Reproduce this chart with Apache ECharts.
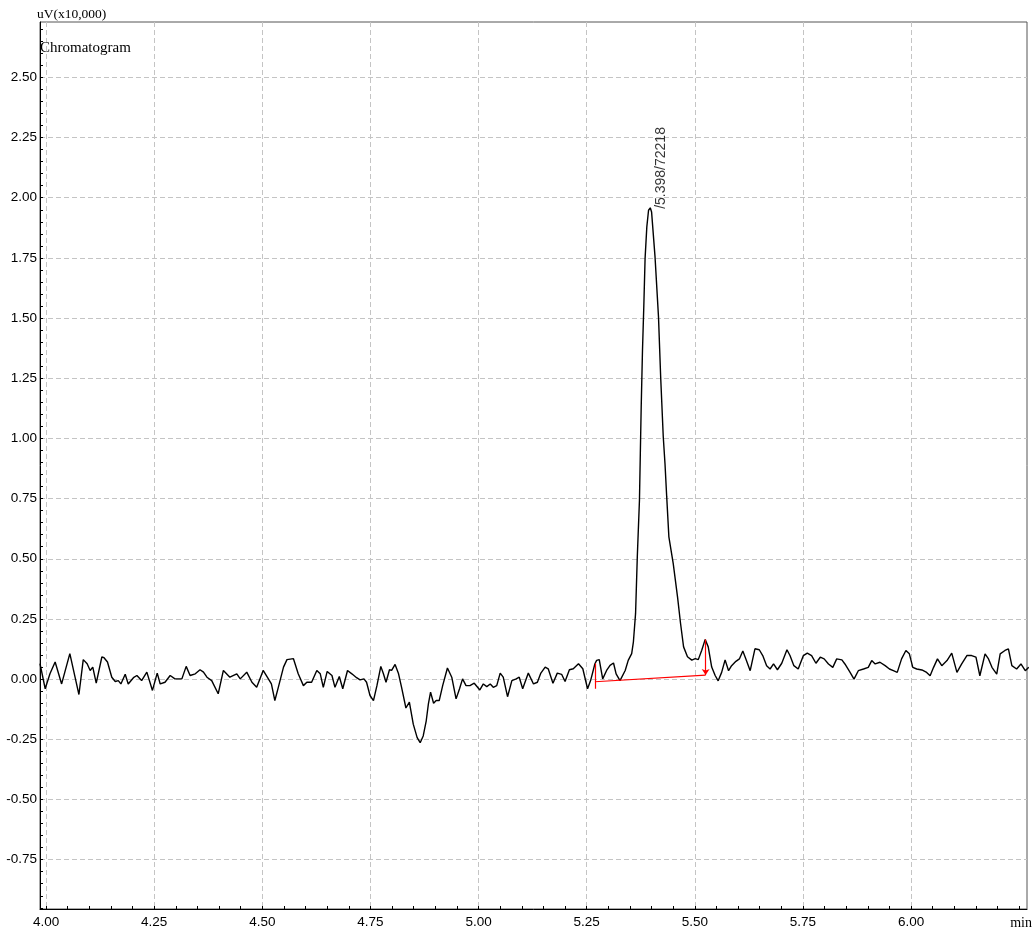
<!DOCTYPE html>
<html>
<head>
<meta charset="utf-8">
<title>Chromatogram</title>
<script src="https://cdn.jsdelivr.net/npm/echarts@6/dist/echarts.min.js"></script>
<style>
  html, body { margin: 0; padding: 0; background: #fff; }
  #chart { width: 1032px; height: 931px; }
</style>
</head>
<body>
<div id="chart"></div>
<script>
// [retention time (min), signal (uV x10,000)]
const trace = [
  [3.986, 0.064], [3.998, -0.040], [4.009, 0.022], [4.021, 0.071], [4.036, -0.020], [4.055, 0.106],
  [4.076, -0.064], [4.086, 0.081], [4.095, 0.064], [4.102, 0.036], [4.108, 0.050], [4.116, -0.017],
  [4.129, 0.092], [4.134, 0.089], [4.142, 0.071], [4.152, 0.008], [4.160, -0.010], [4.167, -0.006],
  [4.173, -0.020], [4.183, 0.020], [4.190, -0.020], [4.202, 0.006], [4.210, 0.015], [4.221, -0.006],
  [4.233, 0.029], [4.246, -0.047], [4.257, 0.025], [4.264, -0.020], [4.275, -0.013], [4.287, 0.015],
  [4.298, 0.001], [4.314, 0.001], [4.324, 0.053], [4.333, 0.015], [4.345, 0.022], [4.356, 0.039],
  [4.364, 0.029], [4.372, 0.008], [4.383, -0.006], [4.398, -0.061], [4.410, 0.036], [4.425, 0.008],
  [4.441, 0.022], [4.449, 0.001], [4.464, 0.029], [4.476, -0.013], [4.487, -0.034], [4.502, 0.036],
  [4.514, 0.001], [4.521, -0.020], [4.529, -0.089], [4.537, -0.034], [4.549, 0.050], [4.557, 0.081],
  [4.572, 0.085], [4.583, 0.022], [4.595, -0.027], [4.603, -0.013], [4.614, -0.013], [4.626, 0.036],
  [4.634, 0.022], [4.641, -0.034], [4.650, 0.032], [4.661, 0.015], [4.668, -0.034], [4.678, 0.011],
  [4.686, -0.040], [4.697, 0.036], [4.707, 0.022], [4.718, 0.006], [4.726, -0.003], [4.735, 0.001],
  [4.741, -0.013], [4.749, -0.068], [4.757, -0.089], [4.765, -0.027], [4.774, 0.053], [4.780, 0.022],
  [4.786, -0.013], [4.794, 0.039], [4.799, 0.036], [4.807, 0.061], [4.815, 0.022], [4.822, -0.034],
  [4.832, -0.120], [4.840, -0.096], [4.849, -0.187], [4.858, -0.243], [4.865, -0.264], [4.872, -0.236],
  [4.879, -0.173], [4.884, -0.103], [4.889, -0.054], [4.896, -0.100], [4.902, -0.089], [4.909, -0.089],
  [4.917, -0.027], [4.928, 0.046], [4.938, 0.008], [4.948, -0.082], [4.956, -0.040], [4.963, 0.001],
  [4.971, -0.027], [4.980, -0.027], [4.990, -0.017], [5.003, -0.045], [5.011, -0.020], [5.019, -0.031],
  [5.027, -0.020], [5.034, -0.034], [5.042, -0.027], [5.050, 0.025], [5.057, 0.008], [5.067, -0.073],
  [5.077, -0.006], [5.087, 0.001], [5.094, 0.008], [5.102, -0.040], [5.115, 0.025], [5.127, -0.020],
  [5.136, -0.013], [5.144, 0.025], [5.154, 0.050], [5.161, 0.043], [5.172, -0.017], [5.182, 0.025],
  [5.192, 0.020], [5.200, -0.010], [5.210, 0.039], [5.219, 0.043], [5.231, 0.064], [5.241, 0.043],
  [5.252, -0.040], [5.259, -0.006], [5.269, 0.064], [5.273, 0.078], [5.279, 0.081], [5.287, 0.001],
  [5.296, 0.036], [5.304, 0.057], [5.312, 0.067], [5.318, 0.022], [5.327, -0.006], [5.339, 0.036],
  [5.346, 0.078], [5.354, 0.106], [5.358, 0.155], [5.363, 0.273], [5.367, 0.508], [5.372, 0.744],
  [5.374, 0.938], [5.376, 1.131], [5.379, 1.367], [5.382, 1.547], [5.385, 1.748], [5.389, 1.879],
  [5.393, 1.948], [5.397, 1.958], [5.400, 1.941], [5.408, 1.754], [5.416, 1.505], [5.421, 1.256],
  [5.427, 1.007], [5.431, 0.896], [5.435, 0.757], [5.440, 0.591], [5.450, 0.481], [5.460, 0.342],
  [5.467, 0.231], [5.474, 0.134], [5.483, 0.093], [5.493, 0.079], [5.501, 0.085], [5.508, 0.081],
  [5.516, 0.120], [5.524, 0.165], [5.531, 0.134], [5.539, 0.050], [5.547, 0.015], [5.554, -0.007],
  [5.562, 0.028], [5.570, 0.080], [5.578, 0.035], [5.585, 0.056], [5.595, 0.074], [5.603, 0.084],
  [5.611, 0.117], [5.618, 0.084], [5.628, 0.035], [5.639, 0.126], [5.649, 0.122], [5.657, 0.098],
  [5.666, 0.056], [5.674, 0.042], [5.682, 0.063], [5.691, 0.039], [5.701, 0.066], [5.713, 0.122],
  [5.720, 0.098], [5.729, 0.056], [5.739, 0.042], [5.751, 0.098], [5.760, 0.108], [5.770, 0.098],
  [5.780, 0.066], [5.790, 0.091], [5.799, 0.084], [5.809, 0.063], [5.819, 0.049], [5.828, 0.084],
  [5.840, 0.080], [5.847, 0.063], [5.859, 0.028], [5.868, 0.000], [5.878, 0.035], [5.890, 0.042],
  [5.901, 0.049], [5.909, 0.077], [5.917, 0.063], [5.928, 0.070], [5.940, 0.056], [5.950, 0.042],
  [5.959, 0.035], [5.968, 0.028], [5.978, 0.084], [5.988, 0.119], [5.996, 0.105], [6.004, 0.049],
  [6.013, 0.042], [6.025, 0.038], [6.036, 0.028], [6.044, 0.014], [6.052, 0.049], [6.061, 0.084],
  [6.071, 0.056], [6.083, 0.077], [6.094, 0.108], [6.106, 0.028], [6.117, 0.063], [6.129, 0.098],
  [6.140, 0.098], [6.150, 0.091], [6.159, 0.014], [6.171, 0.105], [6.179, 0.084], [6.187, 0.049],
  [6.198, 0.021], [6.206, 0.105], [6.217, 0.119], [6.225, 0.126], [6.233, 0.056], [6.244, 0.042],
  [6.254, 0.063], [6.264, 0.035], [6.272, 0.049]
];

const xLabels = [4.00, 4.25, 4.50, 4.75, 5.00, 5.25, 5.50, 5.75, 6.00];
const yLabels = [-0.75, -0.50, -0.25, 0.00, 0.25, 0.50, 0.75, 1.00, 1.25, 1.50, 1.75, 2.00, 2.25, 2.50];
const xRange = [3.986, 6.268];
const yRange = [-0.955, 2.73];

// detected peak: apex, area, integration start / end
const peak = { time: 5.398, height: 1.958, area: 72218 };
const peakStart = [5.269, -0.011];
const peakEnd = [5.525, 0.017];
const startMarkSpan = [0.065, -0.040];
const endMarkTop = 0.165;

// small ticks every 0.05
function steps(from, to, step) {
  const out = [];
  for (let i = 0; from + i * step <= to + 1e-9; i++) out.push(+(from + i * step).toFixed(2));
  return out;
}
const xMinor = steps(4.00, 6.25, 0.05);
const yMinor = steps(-0.95, 2.70, 0.05);

const sans = 'Liberation Sans';
const serif = 'Liberation Serif';
const fmt = v => v.toFixed(2);
const grid = { color: '#c4c4c4', type: [5, 3], width: 1 };

const chart = echarts.init(document.getElementById('chart'));
chart.setOption({
  animation: false,
  title: {
    text: 'Chromatogram', left: 40, top: 41, padding: 0,
    textStyle: { fontFamily: serif, fontSize: 15, fontWeight: 'normal', color: '#000' }
  },
  grid: {
    left: 40, right: 5, top: 22, bottom: 22, outerBoundsMode: 'none',
    show: true, borderColor: '#555', borderWidth: 1
  },
  xAxis: [
    {
      type: 'value', min: xRange[0], max: xRange[1],
      name: 'min', nameLocation: 'end', nameGap: 5,
      nameTextStyle: { fontFamily: serif, fontSize: 14, color: '#000', align: 'right', verticalAlign: 'top', padding: [7, 0, 0, 0] },
      axisLine: { show: true, onZero: false, lineStyle: { color: '#000', width: 1 } },
      axisTick: { show: false, customValues: xLabels },
      axisLabel: { customValues: xLabels, formatter: fmt, margin: 6, fontFamily: sans, fontSize: 13.5, color: '#000' },
      splitLine: { show: true, lineStyle: grid }
    },
    {
      type: 'value', min: xRange[0], max: xRange[1], position: 'bottom',
      axisLine: { show: false, onZero: false }, axisLabel: { show: false }, splitLine: { show: false },
      axisTick: { show: true, inside: true, length: 3, customValues: xMinor, lineStyle: { color: '#000' } }
    }
  ],
  yAxis: [
    {
      type: 'value', min: yRange[0], max: yRange[1],
      name: 'uV(x10,000)', nameLocation: 'end', nameGap: 1,
      nameTextStyle: { fontFamily: serif, fontSize: 13.5, color: '#000', align: 'left', verticalAlign: 'bottom', padding: [0, 0, 0, -3] },
      axisLine: { show: true, onZero: false, lineStyle: { color: '#000', width: 1 } },
      axisTick: { show: false, customValues: yLabels },
      axisLabel: { customValues: yLabels, formatter: fmt, margin: 3, fontFamily: sans, fontSize: 13.5, color: '#000' },
      splitLine: { show: true, lineStyle: grid }
    },
    {
      type: 'value', min: yRange[0], max: yRange[1], position: 'left',
      axisLine: { show: false, onZero: false }, axisLabel: { show: false }, splitLine: { show: false },
      axisTick: { show: true, inside: true, length: 3, customValues: yMinor, lineStyle: { color: '#000' } }
    }
  ],
  series: [
    {
      type: 'line', data: trace, symbol: 'none', showSymbol: false,
      lineStyle: { color: '#000', width: 1.4 }, z: 3,
      markLine: {
        silent: true, symbol: 'none', label: { show: false },
        lineStyle: { color: '#ff0000', width: 1.2, type: 'solid' },
        data: [
          [{ coord: [peakStart[0], startMarkSpan[0]] }, { coord: [peakStart[0], startMarkSpan[1]] }],
          [{ coord: peakStart }, { coord: peakEnd }],
          [{ coord: [peakEnd[0], endMarkTop] }, { coord: peakEnd, symbol: 'arrow', symbolSize: 6 }]
        ]
      }
    },
    {
      type: 'scatter', data: [[peak.time, peak.height]], symbolSize: 1,
      itemStyle: { color: 'transparent' },
      label: {
        show: true, formatter: '/' + peak.time.toFixed(3) + '/' + peak.area,
        rotate: 90, position: 'inside', align: 'left', verticalAlign: 'middle', offset: [-1, 10],
        fontFamily: sans, fontSize: 14, color: '#000'
      }
    }
  ]
});
</script>
</body>
</html>
